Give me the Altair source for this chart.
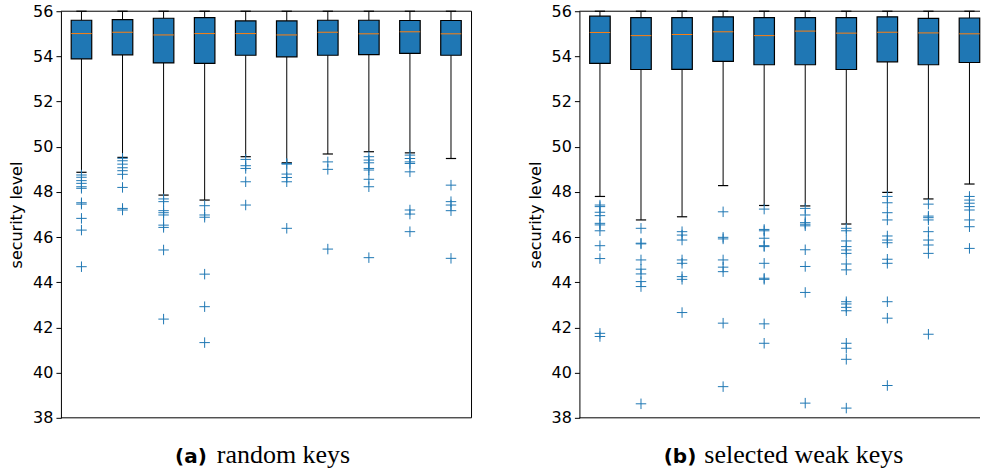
import altair as alt
import pandas as pd

# ---- summary statistics per key (10 keys per panel) ----
keys = list(range(1, 11))

# (a) random keys
a_q1 = [53.89, 54.07, 53.71, 53.69, 54.05, 53.98, 54.05, 54.08, 54.13, 54.05]
a_med = [55.01, 55.07, 54.95, 55.01, 55.01, 54.95, 55.07, 55.00, 55.09, 55.00]
a_q3 = [55.60, 55.63, 55.69, 55.72, 55.57, 55.57, 55.60, 55.60, 55.59, 55.59]
a_lo = [48.87, 49.53, 47.86, 47.64, 49.56, 49.29, 49.68, 49.78, 49.73, 49.48]
a_hi = [56.0] * 10
a_fliers = [
    [48.75, 48.65, 48.50, 48.38, 48.23, 48.16, 47.52, 47.46, 46.83, 46.31, 44.69],
    [49.49, 49.38, 49.23, 49.07, 48.94, 48.78, 48.20, 47.27, 47.20],
    [47.69, 47.57, 47.17, 47.08, 46.98, 46.53, 46.43, 45.43, 42.37],
    [47.39, 46.98, 46.88, 44.36, 42.92, 41.33],
    [49.44, 49.16, 49.04, 48.45, 47.42],
    [49.26, 49.23, 48.79, 48.64, 48.45, 46.39],
    [49.33, 49.00, 45.47],
    [49.56, 49.41, 49.29, 49.04, 48.97, 48.56, 48.23, 45.09],
    [49.63, 49.48, 49.33, 49.26, 48.89, 47.20, 47.02, 46.24],
    [48.30, 47.57, 47.42, 47.17, 45.06],
]

# (b) selected weak keys
b_q1 = [53.69, 53.42, 53.43, 53.78, 53.63, 53.63, 53.42, 53.76, 53.63, 53.73]
b_med = [55.06, 54.92, 54.97, 55.09, 54.92, 55.12, 55.03, 55.07, 55.04, 55.00]
b_q3 = [55.78, 55.72, 55.72, 55.75, 55.72, 55.72, 55.72, 55.75, 55.68, 55.70]
b_lo = [47.80, 46.76, 46.90, 48.28, 47.40, 47.38, 46.58, 47.98, 47.69, 48.35]
b_hi = [56.0] * 10
b_fliers = [
    [47.42, 47.35, 47.10, 46.95, 46.61, 46.54, 46.28, 45.62, 45.05, 41.74, 41.60],
    [46.39, 45.73, 45.70, 44.99, 44.58, 44.37, 44.03, 43.81, 38.62],
    [46.24, 46.09, 45.87, 44.99, 44.84, 44.25, 44.13, 42.66],
    [47.12, 45.99, 45.92, 44.99, 44.67, 44.47, 42.19, 39.38],
    [47.24, 46.34, 46.28, 45.95, 45.62, 45.58, 44.84, 44.18, 44.13, 42.16, 41.30],
    [47.27, 46.98, 46.64, 46.57, 46.50, 45.44, 44.70, 43.55, 38.65],
    [46.39, 46.28, 45.83, 45.58, 45.43, 45.28, 44.81, 44.55, 43.14, 43.04,
     42.89, 42.74, 41.30, 41.08, 40.59, 38.43],
    [47.80, 47.52, 47.08, 46.76, 46.05, 45.87, 45.75, 45.02, 44.84, 43.14,
     42.41, 39.43],
    [47.46, 46.93, 46.86, 46.76, 46.24, 45.87, 45.65, 45.28, 41.70],
    [47.80, 47.64, 47.50, 47.35, 47.20, 46.76, 46.46, 45.50],
]

BLUE = "#1f77b4"
ORANGE = "#ff7f0e"
PLUS = "M-1,0L1,0M0,-1L0,1"
H = 407
STEP = 41.1  # pixels per key position


def panel(q1, med, q3, lo, hi, fliers, tag, caption, tag_x, cap_x,
          width, right_spine):
    boxes = pd.DataFrame({"key": keys, "q1": q1, "med": med, "q3": q3,
                          "lo": lo, "hi": hi})
    pts = pd.DataFrame([{"key": k, "v": v}
                        for k, vals in zip(keys, fliers) for v in vals])

    xs = alt.Scale(domain=[0.5, 0.5 + width / STEP], nice=False, zero=False)
    ys = alt.Scale(domain=[38, 56], nice=False, zero=False)
    yaxis = alt.Axis(values=list(range(38, 57, 2)), title="security level",
                     grid=False, tickSize=5, tickColor="black",
                     domainColor="black", labelColor="black",
                     labelFont="DejaVu Sans", labelFontSize=16,
                     labelPadding=3, titleFont="DejaVu Sans",
                     titleFontSize=16, titleFontWeight="normal",
                     titleColor="black", titlePadding=8)

    base = alt.Chart(boxes).transform_calculate(
        bl="datum.key - 0.25", br="datum.key + 0.25",
        cl="datum.key - 0.125", cr="datum.key + 0.125",
    )
    x = alt.X("key:Q", scale=xs, axis=None)

    whisk_lo = base.mark_rule(color="black", strokeWidth=1).encode(
        x=x, y=alt.Y("lo:Q", scale=ys, axis=yaxis), y2="q1:Q")
    whisk_hi = base.mark_rule(color="black", strokeWidth=1).encode(
        x=x, y=alt.Y("q3:Q", scale=ys), y2="hi:Q")
    cap_lo = base.mark_rule(color="black", strokeWidth=1.2).encode(
        x=alt.X("cl:Q", scale=xs, axis=None), x2="cr:Q",
        y=alt.Y("lo:Q", scale=ys))
    cap_hi = base.mark_rule(color="black", strokeWidth=1.2).encode(
        x=alt.X("cl:Q", scale=xs, axis=None), x2="cr:Q",
        y=alt.Y("hi:Q", scale=ys))
    box = base.mark_bar(fill=BLUE, stroke="black", strokeWidth=1.2).encode(
        x=alt.X("bl:Q", scale=xs, axis=None), x2="br:Q",
        y=alt.Y("q1:Q", scale=ys), y2="q3:Q")
    median = base.mark_rule(color=ORANGE, strokeWidth=1).encode(
        x=alt.X("bl:Q", scale=xs, axis=None), x2="br:Q",
        y=alt.Y("med:Q", scale=ys))
    outl = alt.Chart(pts).mark_point(
        shape=PLUS, filled=False, stroke=BLUE, strokeWidth=1, size=110,
        opacity=1).encode(
        x=alt.X("key:Q", scale=xs, axis=None),
        y=alt.Y("v:Q", scale=ys))

    # top and bottom frame lines across the full panel width
    frame = pd.DataFrame({"edge": [38, 56]})
    spines = alt.Chart(frame).mark_rule(color="black", strokeWidth=1).encode(
        y=alt.Y("edge:Q", scale=ys))
    layers = [whisk_lo, whisk_hi, cap_lo, cap_hi, box, median, outl, spines]
    if right_spine:
        side = pd.DataFrame({"side": [0.5 + width / STEP]})
        layers.append(alt.Chart(side).mark_rule(
            color="black", strokeWidth=1).encode(
            x=alt.X("side:Q", scale=xs, axis=None)))

    lab = pd.DataFrame({"tag": [tag], "cap": [caption]})
    tag_txt = alt.Chart(lab).mark_text(
        font="DejaVu Sans", fontWeight="bold", fontSize=20, align="right",
        baseline="alphabetic", color="black").encode(
        x=alt.value(tag_x), y=alt.value(452), text="tag:N")
    cap_txt = alt.Chart(lab).mark_text(
        font="Liberation Serif", fontSize=26, align="left",
        baseline="alphabetic", color="black").encode(
        x=alt.value(cap_x), y=alt.value(452), text="cap:N")
    layers += [tag_txt, cap_txt]

    return alt.layer(*layers).properties(width=width, height=H)


left = panel(a_q1, a_med, a_q3, a_lo, a_hi, a_fliers,
             "(a)", "random keys", 146, 156, 411, True)
right = panel(b_q1, b_med, b_q3, b_lo, b_hi, b_fliers,
              "(b)", "selected weak keys", 117, 125, 401, False)

chart = alt.hconcat(left, right, spacing=54).configure_view(
    stroke="transparent"
).properties(
    padding={"left": 8, "top": 2, "right": 0, "bottom": 0},
    background="white",
)

chart.save("out.html", embed_options={"renderer": "svg", "actions": False})
